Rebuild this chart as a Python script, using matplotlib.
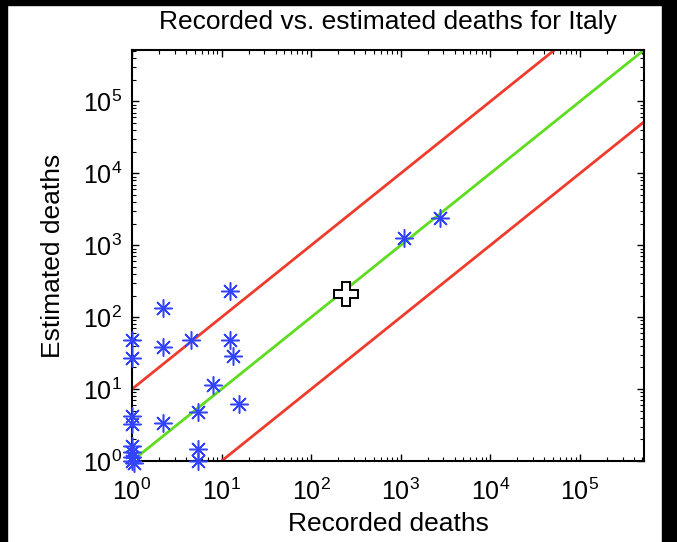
import numpy as np
import matplotlib
matplotlib.use("Agg")
import matplotlib.pyplot as plt
from matplotlib.patches import Rectangle
from matplotlib.ticker import LogLocator, NullFormatter

plt.rcParams['font.family'] = ['Liberation Sans', 'DejaVu Sans']
plt.rcParams['mathtext.fontset'] = 'custom'
plt.rcParams['mathtext.rm'] = 'Liberation Sans'
plt.rcParams['mathtext.it'] = 'Liberation Sans'
plt.rcParams['mathtext.bf'] = 'Liberation Sans'

# Data
recorded = [12.5, 2.2, 1, 1, 2.2, 4.5, 12.5, 13.5, 8.0, 15.5, 5.5, 2.2, 1, 1,
            5.5, 5.5, 1, 1, 1, 1, 1.05, 1100, 2750]
estimated = [230, 135, 48, 27, 38, 48, 48, 29, 11.5, 6.3, 4.8, 3.4, 4.2, 3.3,
             1.45, 1.0, 1.6, 1.35, 1.15, 1.0, 0.95, 1250, 2400]
line_x = np.array([1.0, 5.2e5])
upper_factor = 10.0
lower_factor = 0.1
cursor_x, cursor_y = [245], [210]
title = "Recorded vs. estimated deaths for Italy"
xlabel = "Recorded deaths"
ylabel = "Estimated deaths"
xlim = (1.0, 5.2e5)
ylim = (1.0, 5.2e5)

fig = plt.figure(figsize=(6.77, 5.42), dpi=100)
fig.patch.set_facecolor('white')
W, H = 677, 542
# dark screenshot borders
fig.patches.append(Rectangle((0, 0), 7 / W, 1, transform=fig.transFigure, color='black', zorder=-10))
fig.patches.append(Rectangle((0, 1 - 5 / H), 1, 5 / H, transform=fig.transFigure, color='black', zorder=-10))
fig.patches.append(Rectangle((1 - 15 / W, 0), 15 / W, 1, transform=fig.transFigure, color='black', zorder=-10))

ax = fig.add_axes([132 / W, 1 - 461 / H, (644 - 132) / W, (461 - 50) / H])
ax.set_xscale('log')
ax.set_yscale('log')

ax.plot(line_x, line_x * upper_factor, color='#ee3b2b', lw=2.0, zorder=2)
ax.plot(line_x, line_x, color='#5edc1f', lw=2.0, zorder=2)
ax.plot(line_x, line_x * lower_factor, color='#ee3b2b', lw=2.0, zorder=2)

ax.plot(recorded, estimated, linestyle='none', marker=(8, 2, 0), markersize=13,
        markeredgecolor='#3344ff', markeredgewidth=1.1, color='#3344ff',
        clip_on=False, zorder=3)
ax.plot(cursor_x, cursor_y, linestyle='none', marker='P', markersize=17,
        markerfacecolor='white', markeredgecolor='black', markeredgewidth=1.4,
        zorder=4)

ax.set_xlim(*xlim)
ax.set_ylim(*ylim)
for axis in (ax.xaxis, ax.yaxis):
    axis.set_major_locator(LogLocator(base=10, numticks=10))
    axis.set_minor_locator(LogLocator(base=10, subs=np.arange(2, 10), numticks=20))
    axis.set_minor_formatter(NullFormatter())
ax.tick_params(which='both', direction='in', top=True, right=True, colors='black',
               labelsize=18)
ax.tick_params(which='major', length=5, width=1.0)
ax.tick_params(which='minor', length=3, width=0.8)
ax.tick_params(axis='x', pad=13)
ax.tick_params(axis='y', pad=7)
for s in ax.spines.values():
    s.set_linewidth(1.5)

ax.set_title(title, fontsize=19, pad=15)
ax.set_xlabel(xlabel, fontsize=19, labelpad=5)
ax.set_ylabel(ylabel, fontsize=19, labelpad=13)

fig.savefig('out.png', dpi=100)
